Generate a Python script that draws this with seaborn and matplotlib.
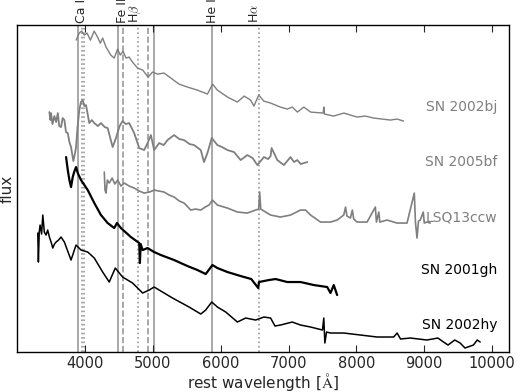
import numpy as np
import pandas as pd
import matplotlib
matplotlib.use('Agg')
import matplotlib.pyplot as plt
import seaborn as sns

# spectra: wavelength [A] and flux (arbitrary units, offset included)
wl_02bj = [3870, 3915, 3950, 3990, 4030, 4080, 4135, 4185, 4225, 4260, 4310, 4380, 4430,
           4480, 4520, 4560, 4605, 4650, 4700, 4775, 4850, 4930, 4995, 5070, 5165, 5265,
           5385, 5510, 5655, 5805, 5880, 5950, 6100, 6245, 6345, 6440, 6490, 6560, 6635,
           6735, 6880, 6980, 7055, 7130, 7225, 7325, 7510, 7520, 7530, 7665, 7815, 8010,
           8130, 8255, 8380, 8500, 8600, 8695]
fl_02bj = [312, 319, 321, 317, 319, 312, 321, 315, 309, 314, 305, 297, 294,
           303, 297, 301, 294, 295, 290, 284, 282, 275, 280, 278, 279, 274,
           268, 265, 262, 258, 268, 262, 255, 250, 256, 252, 246, 257, 251,
           249, 245, 243, 245, 240, 245, 240, 239, 245, 238, 236, 239, 235,
           236, 234, 233, 232, 233, 231]

wl_05bf = [3475, 3490, 3500, 3520, 3549, 3575, 3599, 3620, 3647, 3670, 3696, 3720, 3746,
           3770, 3794, 3828, 3850, 3868, 3890, 3916, 3940, 3966, 3990, 4015, 4063, 4100,
           4137, 4190, 4235, 4290, 4334, 4407, 4456, 4510, 4554, 4600, 4651, 4725, 4799,
           4872, 4922, 4971, 5019, 5093, 5160, 5216, 5313, 5390, 5460, 5540, 5607, 5706,
           5754, 5804, 5868, 5951, 6020, 6099, 6196, 6294, 6392, 6470, 6540, 6637, 6700,
           6735, 6750, 6834, 6931, 7029, 7080, 7128, 7180, 7225, 7275]
fl_05bf = [240, 232, 239, 228, 236, 230, 239, 226, 225, 234, 232, 220, 219,
           210, 205, 191, 198, 205, 225, 242, 250, 252, 246, 247, 229, 232,
           229, 226, 229, 225, 224, 205, 214, 226, 231, 228, 229, 219, 204,
           202, 209, 217, 202, 209, 207, 212, 217, 213, 212, 208, 207, 202,
           190, 199, 214, 207, 205, 202, 200, 192, 197, 194, 187, 195, 193,
           196, 204, 192, 187, 195, 190, 192, 188, 189, 190]

wl_13ccw = [4284, 4295, 4309, 4330, 4357, 4400, 4440, 4481, 4530, 4578, 4650, 4725, 4800,
            4872, 4950, 5019, 5090, 5166, 5240, 5313, 5390, 5460, 5559, 5630, 5706, 5770,
            5828, 5878, 5951, 6099, 6246, 6392, 6515, 6560, 6574, 6590, 6613, 6735, 6882,
            7029, 7176, 7250, 7324, 7471, 7618, 7716, 7813, 7840, 7860, 7912, 7940, 7960,
            8010, 8157, 8279, 8295, 8330, 8345, 8451, 8599, 8746, 8853, 8870, 8893, 8915,
            8941, 8985, 9000, 9040, 9088]
fl_13ccw = [180, 162, 159, 172, 169, 174, 168, 172, 166, 169, 166, 164, 161,
            159, 160, 162, 161, 160, 157, 155, 151, 149, 142, 143, 142, 145,
            147, 152, 147, 144, 140, 139, 142, 143, 160, 143, 142, 137, 135,
            137, 142, 142, 137, 130, 130, 132, 137, 145, 136, 134, 142, 133,
            130, 130, 145, 130, 140, 130, 132, 129, 129, 159, 130, 114, 131,
            132, 140, 129, 130, 129]

wl_01gh = [3721, 3746, 3770, 3794, 3819, 3840, 3868, 3893, 3941, 4040, 4137, 4235, 4334,
           4431, 4471, 4529, 4676, 4799, 4809, 4820, 4849, 4922, 5019, 5118, 5313, 5510,
           5657, 5779, 5878, 5951, 6099, 6294, 6450, 6553, 6563, 6710, 6809, 6981, 7176,
           7372, 7569, 7618, 7666, 7716]
fl_01gh = [195, 182, 172, 165, 175, 180, 185, 179, 172, 162, 149, 137, 129,
           124, 129, 124, 115, 109, 89, 108, 102, 104, 100, 97, 92, 86,
           82, 78, 87, 84, 80, 76, 73, 64, 70, 72, 73, 70, 70,
           67, 65, 59, 67, 57]

wl_02hy = [3304, 3313, 3325, 3338, 3360, 3378, 3400, 3426, 3450, 3475, 3500, 3525, 3550,
           3574, 3610, 3647, 3696, 3750, 3794, 3868, 3941, 4040, 4137, 4260, 4357, 4446,
           4554, 4701, 4849, 4946, 5019, 5093, 5290, 5534, 5706, 5779, 5868, 5951, 6074,
           6246, 6368, 6515, 6637, 6735, 6800, 6882, 7054, 7176, 7324, 7500, 7519, 7535,
           7560, 7618, 7813, 8059, 8304, 8549, 8600, 8650, 8794, 9040, 9200, 9284, 9350,
           9450, 9529, 9600, 9725, 9780, 9824]
fl_02hy = [119, 90, 120, 127, 118, 137, 120, 117, 122, 115, 110, 104, 108,
           110, 112, 115, 110, 100, 92, 107, 102, 100, 94, 80, 70, 84,
           75, 69, 59, 62, 65, 62, 54, 45, 38, 42, 50, 45, 40,
           30, 34, 32, 35, 34, 26, 27, 30, 27, 25, 22, 34, 9,
           20, 19, 19, 17, 15, 15, 19, 13, 14, 12, 14, 10, 7,
           12, 9, 4, 7, 12, 10]

names = ['SN 2002bj', 'SN 2005bf', 'LSQ13ccw', 'SN 2001gh', 'SN 2002hy']
name_y = [245, 190, 135, 82, 27]

# line markers: (wavelength, style)
line_wl = [3893, 3951, 3980, 4480, 4555, 4780, 4930, 5019, 5878, 6565]
line_ls = ['-', ':', ':', '-', '--', ':', '--', '-', '-', ':']
ion_names = ['Ca II', 'Fe II', r'H$\beta$', 'He I', r'H$\alpha$']
ion_wl = [3951, 4550, 4745, 5878, 6500]

sns.set_style('ticks')
plt.rcParams['font.family'] = ['DejaVu Sans']
plt.rcParams['mathtext.fontset'] = 'cm'

fig = plt.figure(figsize=(5.2, 3.92), dpi=100)
ax = fig.add_axes([0.033, 0.102, 0.946, 0.834])

gray = '#7f7f7f'
spectra = [(wl_02bj, fl_02bj, gray, 1.0), (wl_05bf, fl_05bf, gray, 1.3),
           (wl_13ccw, fl_13ccw, gray, 1.2), (wl_01gh, fl_01gh, 'black', 1.6),
           (wl_02hy, fl_02hy, 'black', 1.1)]
for wl, fl, c, lw in spectra:
    sns.lineplot(x=wl, y=fl, color=c, lw=lw, ax=ax, estimator=None, sort=False)

for w, ls in zip(line_wl, line_ls):
    ax.axvline(w, color='#9a9a9a', ls=ls, lw=1.2, zorder=0)

for n, w in zip(ion_names, ion_wl):
    ax.text(w, 329, n, rotation=90, ha='center', va='bottom', fontsize=9, clip_on=False)

for i, (n, y) in enumerate(zip(names, name_y)):
    ax.text(10080, y, n, ha='right', va='center', fontsize=10,
            color=gray if i < 3 else 'black')

ax.set_xlim(3000, 10250)
ax.set_ylim(0, 327)
ax.set_xticks([4000, 5000, 6000, 7000, 8000, 9000, 10000])
ax.set_yticks([])
ax.tick_params(axis='x', direction='in', top=True, length=5, labelsize=10.5, pad=3)
for s in ax.spines.values():
    s.set_visible(True)
    s.set_linewidth(1.0)
    s.set_color('black')
ax.set_xlabel(r'rest wavelength [$\mathrm{\AA}$]', fontsize=11, labelpad=0)
ax.set_ylabel('flux', fontsize=11, labelpad=2)

fig.savefig('out.png', dpi=100)
